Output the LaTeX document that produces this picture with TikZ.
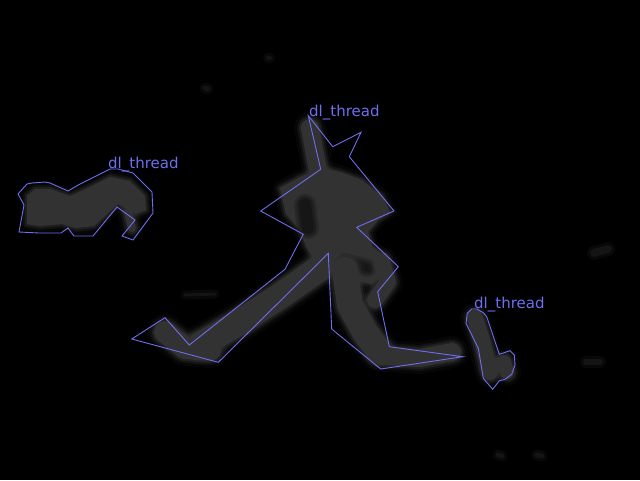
\documentclass[tikz,border=0pt]{standalone}
\usepackage{fontspec}
\setmainfont{DejaVu Sans}
\begin{document}
\begin{tikzpicture}[x=1pt,y=-1pt,
  outline/.style={draw={rgb,255:red,110;green,110;blue,240},line width=0.9pt,line join=miter},
  lbl/.style={text={rgb,255:red,110;green,110;blue,240},inner sep=0pt,anchor=base west,font=\fontsize{15}{15}\selectfont},
  blobc/.style={color={rgb,255:red,50;green,50;blue,50},line cap=round,line join=round},
  darkc/.style={color={rgb,255:red,22;green,22;blue,22},line cap=round,line join=round},
  faint/.style={color={rgb,255:red,28;green,28;blue,28},line cap=round,line join=round}]
\newcommand\limb[2]{%
  \draw[blobc,line width=#1+14,opacity=0.12] #2;
  \draw[blobc,line width=#1+8,opacity=0.25] #2;
  \draw[blobc,line width=#1+4,opacity=0.45] #2;
  \draw[blobc,line width=#1] #2;}
\newcommand\area[1]{%
  \path[blobc,fill,draw,line width=14,opacity=0.12] #1;
  \path[blobc,fill,draw,line width=8,opacity=0.25] #1;
  \path[blobc,fill,draw,line width=4,opacity=0.45] #1;
  \fill[blobc] #1;}
\newcommand\darkspot[2]{%
  \draw[darkc,line width=#1,opacity=0.35] #2;
  \draw[darkc,line width=#1-5,opacity=0.5] #2;
  \draw[darkc,line width=#1-10] #2;}
\newcommand\faintblob[2]{%
  \draw[faint,line width=#1+6,opacity=0.3] #2;
  \draw[faint,line width=#1,opacity=0.6] #2;}
\fill[black] (0,0) rectangle (640,480);
\useasboundingbox (0,0) rectangle (640,480);
% faint background blobs
\faintblob{8}{(594,253)--(608,249)}
\faintblob{5}{(205,88)--(208,89)}
\faintblob{6}{(586,362)--(600,362)}
\faintblob{5}{(498,455)--(502,456)}
\faintblob{5}{(537,455)--(542,456)}
\faintblob{3}{(185,295)--(215,294)}
\faintblob{4}{(268,58)--(270,58)}
% left blob
\area{(27,196)--(35,189)--(50,189)--(70,196)--(86,189)--(110,177)--(130,181)--(145,196)--(146,210)--(136,214)--(118,204)--(94,226)--(76,228)--(62,224)--(40,226)--(27,224)--cycle}
\limb{8}{(128,212)--(132,228)}
% middle figure
\limb{18}{(310,128)--(316,160)--(320,180)}
\area{(280,188)--(300,177)--(322,168)--(340,172)--(362,180)--(382,196)--(390,212)--(378,220)--(368,232)--(372,246)--(384,256)--(388,270)--(372,284)--(350,280)--(330,270)--(315,262)--(306,246)--(300,230)--(286,214)--cycle}
\darkspot{22}{(305,205)--(308,228)}
\darkspot{18}{(345,262)--(368,268)}
\limb{26}{(320,268)--(280,296)--(240,322)--(200,345)}
\limb{22}{(165,332)--(185,348)--(210,350)}
\limb{26}{(345,270)--(350,305)--(365,332)--(378,350)}
\limb{16}{(382,262)--(388,282)--(375,300)}
\limb{18}{(382,356)--(420,358)--(452,352)}
% right blob
\limb{16}{(475,318)--(482,340)--(490,372)}
\limb{14}{(492,368)--(504,362)--(507,372)}
% polygons
\draw[outline] (18,194)--(27,184)--(32,183)--(45,182)--(50,183)--(68,191)--(80,184)--(110,169)--(118,169)--(133,173)--(152,192)--(153,213)--(133,240)--(122,236)--(135,220)--(117,207)--(93,236)--(74,236)--(68,228)--(61,233)--(39,233)--(19,232)--(24,205)--cycle;
\draw[outline] (308.3,115.7)--(332.7,146.7)--(361,132.3)--(349.3,156.7)--(394,211)--(356.7,227.3)--(398.3,266.7)--(377.7,291.7)--(389.3,346.7)--(462.7,356.7)--(380.7,369)--(331.7,329)--(328.3,253.3)--(218.3,362.3)--(131.7,339)--(165,317.7)--(189.3,345)--(285,269.3)--(295,250)--(303.3,234.3)--(260.7,211)--(320.7,169.3)--cycle;
\draw[outline] (471.7,309)--(467.3,313.3)--(466,323.3)--(478.3,348.3)--(483.3,378.3)--(492.7,389.3)--(499.3,380.7)--(505,379.3)--(511.7,374.3)--(515,365)--(514.3,355)--(510,350.7)--(499.3,354.3)--(486.7,316.7)--(483.3,312.7)--(476.7,309)--cycle;
% labels
\node[lbl] (l1) at (108,168) {dl\_thread};
\node[lbl] (l2) at (309,116) {dl\_thread};
\node[lbl] (l3) at (474,308) {dl\_thread};
\end{tikzpicture}
\end{document}
